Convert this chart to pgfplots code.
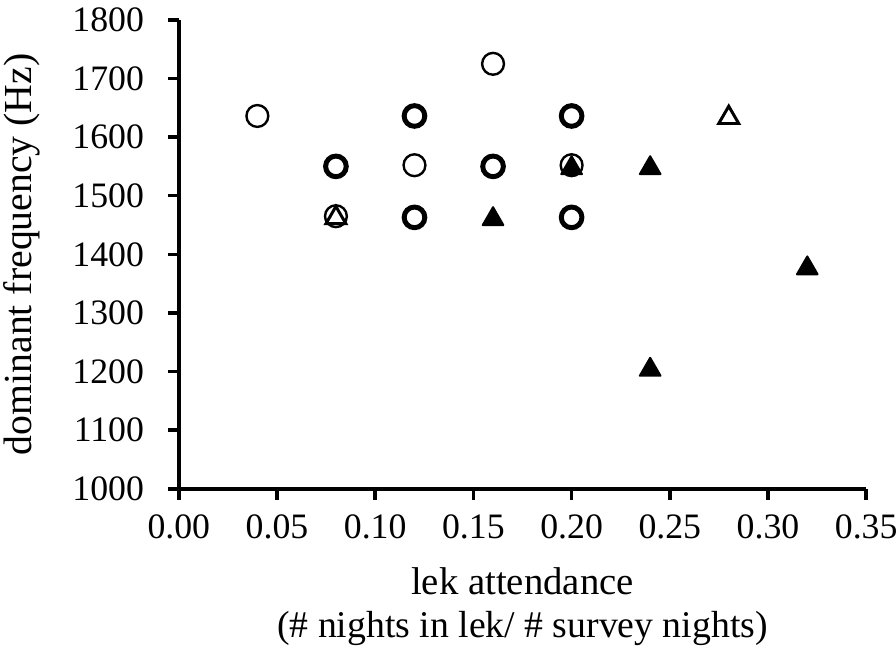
\documentclass[border=0pt]{standalone}
\usepackage{pgfplots}
\pgfplotsset{compat=1.18}
\usepackage{fontspec}
\setmainfont{Liberation Serif}
\begin{document}
\begin{tikzpicture}
\begin{axis}[
  scale only axis,
  width=346pt, height=236pt,
  xmin=0, xmax=0.35, ymin=1000, ymax=1800,
  xtick={0,0.05,...,0.35},
  ytick={1000,1100,...,1800},
  axis x line=bottom, axis y line=left,
  axis line style={-, line width=1.8pt},
  tick style={line width=1.8pt, black},
  tick align=outside,
  major tick length=5.5pt,
  /pgf/number format/assume math mode=true,
  /pgf/number format/1000 sep={},
  xticklabel={\pgfmathprintnumber[fixed,fixed zerofill,precision=2]{\tick}},
  tick label style={font=\fontsize{18}{21}\selectfont},
  yticklabel style={xshift=-8.5pt},
  xticklabel style={yshift=-4pt},
  ylabel={dominant frequency (Hz)},
  ylabel style={font=\fontsize{20}{24}\selectfont, at={([xshift=-79pt]rel axis cs:0,0.5)}, anchor=center},
  clip=false,
]
% thin open circles
\addplot[only marks, mark=o, mark size=5.5pt, mark options={line width=1.2pt, black}] coordinates {
(0.04,1636) (0.12,1552) (0.16,1725) (0.08,1465) (0.20,1552)};
% bold open circles (overlapping points)
\addplot[only marks, mark=o, mark size=5.2pt, mark options={line width=2.5pt, black}] coordinates {
(0.08,1550) (0.12,1636) (0.12,1463) (0.16,1550) (0.20,1636) (0.20,1463)};
% open triangles
\addplot[only marks, mark=triangle, mark size=5.8pt, mark options={line width=1.5pt, black}] coordinates {
(0.08,1462) (0.28,1633)};
% filled triangles
\addplot[only marks, mark=triangle*, mark size=6pt, mark options={line width=1pt, black, fill=black, line join=round}] coordinates {
(0.20,1547) (0.16,1460) (0.24,1547) (0.24,1203) (0.32,1376)};
\node[anchor=center, font=\fontsize{19.5}{22}\selectfont] at ([yshift=-46.5pt]rel axis cs:0.5,0) {lek attendance};
\node[anchor=center, font=\fontsize{19}{22}\selectfont] at ([yshift=-70.5pt]rel axis cs:0.5,0) {(\# nights in lek/ \# survey nights)};
\coordinate (O) at (rel axis cs:0,0);
\coordinate (TR) at (rel axis cs:1,1);
\end{axis}
\pgfresetboundingbox
\path[use as bounding box] ([shift={(-90pt,-80pt)}]O) rectangle ([shift={(15pt,10pt)}]TR);
\end{tikzpicture}
\end{document}
